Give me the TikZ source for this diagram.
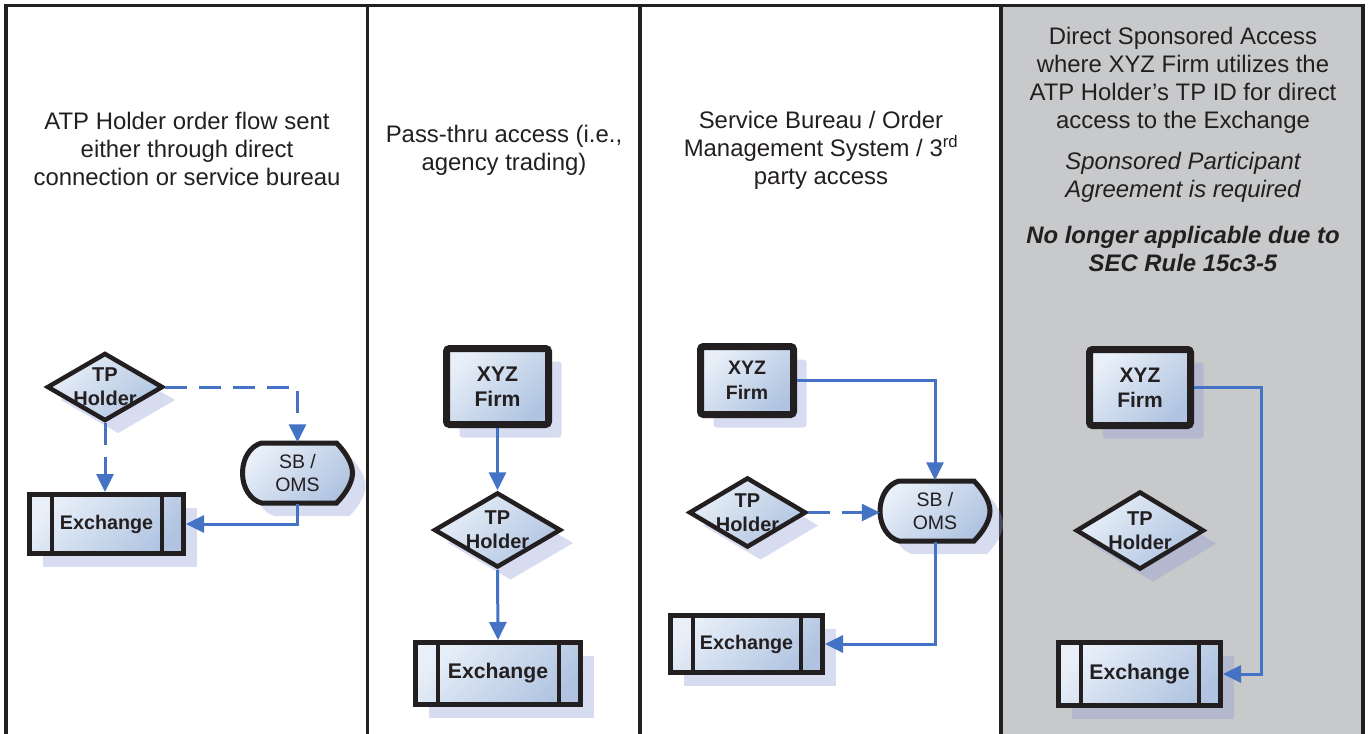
\documentclass[tikz,border=0pt]{standalone}
\usepackage{fontspec}
\setmainfont{Liberation Sans}
\usetikzlibrary{arrows.meta}
\usetikzlibrary{shapes.geometric}
\usetikzlibrary{shadows}

% outline of the service bureau symbol, around its centre
\newcommand{\sbpath}{(-36,-30) -- (39,-30) .. controls (46,-23) and (55,-11) .. (55,0) .. controls (55,11) and (46,23) .. (39,30) -- (-36,30) .. controls (-47,27) and (-55,15) .. (-55,0) .. controls (-55,-15) and (-47,-27) .. (-36,-30) -- cycle}
\newcommand{\sbnode}[3]{%
  \begin{scope}[shift={(#2,#3)}]
    \fill[shadowblue, opacity=0.35, shift={(13,13)}] \sbpath;
    \shade[top color=boxlight, bottom color=boxdark, shading angle=45] \sbpath;
    \draw[boxline, line width=5pt] \sbpath;
  \end{scope}
  \node[sbtext, minimum width=110pt, minimum height=61pt] (#1) at (#2,#3) {SB /\\OMS};
}

\begin{document}
\begin{tikzpicture}[x=1pt, y=-1pt,
    title/.style={align=center, text=textdark, font=\fontsize{23.9}{28}\selectfont},
    box/.style={draw=boxline, top color=boxlight, bottom color=boxdark, shading angle=45,
      drop shadow={shadow xshift=13pt, shadow yshift=-13pt, fill=shadowblue, opacity=0.35},
      align=center, text=textdark},
    firm/.style={box, rectangle, rounded corners=3pt, line width=7pt,
      font=\bfseries\fontsize{#1}{25}\selectfont},
    holder/.style={box, diamond, line width=4.5pt, inner xsep=-32pt, inner ysep=-22pt,
      font=\bfseries\fontsize{20}{24}\selectfont},
    exch/.style={box, rectangle, line width=5pt, font=\bfseries\fontsize{#1}{24}\selectfont,
      path picture={
        \draw[boxline, line width=4pt] ([xshift=22pt]path picture bounding box.north west) -- ([xshift=22pt]path picture bounding box.south west);
        \draw[boxline, line width=4pt] ([xshift=-22pt]path picture bounding box.north east) -- ([xshift=-22pt]path picture bounding box.south east);
      }},
    sbtext/.style={align=center, text=textdark, font=\fontsize{19.5}{23}\selectfont},
    flow/.style={draw=arrowblue, line width=3pt, -{Triangle[length=18pt, width=17pt]}},
    dashflow/.style={flow, dash pattern=on 22pt off 12pt}]
        \definecolor{textdark}{RGB}{35,31,32}
        \definecolor{boxline}{RGB}{35,31,32}
        \definecolor{boxlight}{RGB}{232,239,248}
        \definecolor{boxdark}{RGB}{176,196,225}
        \definecolor{shadowblue}{RGB}{140,155,215}
        \definecolor{arrowblue}{RGB}{68,114,196}
        \definecolor{panelgray}{RGB}{200,201,203}

        \useasboundingbox (0,0) rectangle (1369,734);

        % frame and columns
        \fill[panelgray] (1001,5.5) rectangle (1363,734);
        \draw[boxline, line width=3.5pt] (6,734) -- (6,5.5) -- (1363,5.5) -- (1363,734);
        \draw[boxline, line width=3.5pt] (367.5,5.5) -- (367.5,734);
        \draw[boxline, line width=3.5pt] (640,5.5) -- (640,734);
        \draw[boxline, line width=3.5pt] (1001,5.5) -- (1001,734);

        \node[title] (tA) at (187,149) {ATP Holder order flow sent\\either through direct\\connection or service bureau};
        \node[title] (tB) at (504,150) {Pass-thru access (i.e.,\\agency trading)};
        \node[title] (tC) at (821,150) {Service Bureau / Order\\Management System / 3\textsuperscript{rd}\\party access};
        \node[title] (tD) at (1183,80) {Direct Sponsored Access\\where XYZ Firm utilizes the\\ATP Holder’s TP ID for direct\\access to the Exchange};
        \node[title, font=\itshape\fontsize{23.9}{28}\selectfont] (tE) at (1183,177) {Sponsored Participant\\Agreement is required};
        \node[title, font=\bfseries\itshape\fontsize{23.9}{28}\selectfont] (tF) at (1183,249) {No longer applicable due to\\SEC Rule 15c3-5};

        % direct connection or service bureau
        \node[holder, minimum width=116pt, minimum height=68pt] (hA) at (105,387) {TP\\Holder};
        \node[exch=19.7, minimum width=154pt, minimum height=59pt] (exA) at (106.5,524) {Exchange};
        \sbnode{sbA}{297.5}{473}
        \draw[dashflow] (hA.south) -- (hA.south |- exA.north);
        \draw[dashflow] (hA.east) -| (sbA.north);
        \draw[flow] (sbA.south) |- (exA.east);

        % pass-thru
        \node[firm=21.2, minimum width=102pt, minimum height=76pt] (fB) at (497.5,386.5) {XYZ\\Firm};
        \node[holder, minimum width=127pt, minimum height=75pt] (hB) at (497.5,530) {TP\\Holder};
        \node[exch=21.2, minimum width=165pt, minimum height=62pt] (exB) at (498,673.5) {Exchange};
        \draw[flow] (fB.south) -- (hB.north);
        \draw[flow] (hB.south) -- (exB.north);

        % service bureau / OMS
        \node[firm=19.5, minimum width=93pt, minimum height=68pt] (fC) at (747,380.5) {XYZ\\Firm};
        \node[holder, minimum width=117pt, minimum height=70pt] (hC) at (747.5,512.5) {TP\\Holder};
        \node[exch=19.7, minimum width=152pt, minimum height=57pt] (exC) at (746.5,644) {Exchange};
        \sbnode{sbC}{935}{511}
        \draw[flow] (fC.east) -| (sbC.north);
        \draw[dashflow] (hC.east) -- (hC.east -| sbC.west);
        \draw[flow] (sbC.south) |- (exC.east);

        % direct sponsored access
        \node[firm=21, minimum width=101pt, minimum height=76pt] (fD) at (1140,387.5) {XYZ\\Firm};
        \node[holder, minimum width=128pt, minimum height=78pt] (hD) at (1140,530.5) {TP\\Holder};
        \node[exch=21.2, minimum width=162pt, minimum height=63pt] (exD) at (1139.5,674) {Exchange};
        \draw[flow] (fD.east) -- ++(67.5,0) |- (exD.east);
    \end{tikzpicture}
\end{document}
